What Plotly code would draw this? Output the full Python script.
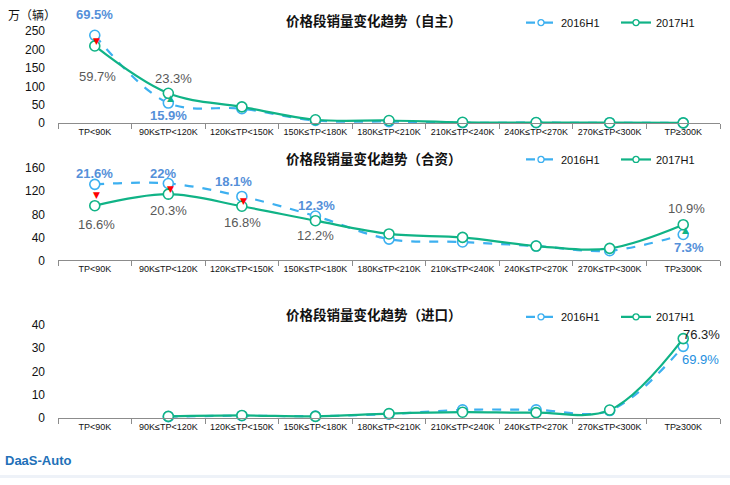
import plotly.graph_objects as go

categories = ["TP<90K", "90K≤TP<120K", "120K≤TP<150K", "150K≤TP<180K", "180K≤TP<210K",
              "210K≤TP<240K", "240K≤TP<270K", "270K≤TP<300K", "TP≥300K"]

# 自主
own_2016 = [239, 54.5, 39, 7, 4, 1, 1, 0.6, 0.3]
own_2017 = [210, 81, 44, 9, 7, 2, 1.5, 1, 0.5]
# 合资
jv_2016 = [132, 133.5, 111, 77, 37, 32, 25, 17, 45]
jv_2017 = [95, 115, 94, 69, 46, 40, 25, 21, 62]
# 进口
imp_2016 = [None, 0.7, 1.1, 0.9, 1.8, 3.6, 3.6, 3.3, 30.7]
imp_2017 = [None, 0.8, 1.2, 0.8, 2.0, 2.6, 2.4, 3.5, 34]

titles = ["价格段销量变化趋势（自主）", "价格段销量变化趋势（合资）", "价格段销量变化趋势（进口）"]
series_names = ["2016H1", "2017H1"]
y_ranges = [[0, 250], [0, 160], [0, 40]]
y_dticks = [50, 40, 10]

C16 = "#3DB0F0"
C17 = "#10B386"
BLUE_LBL = "#5590D9"
GRAY_LBL = "#595959"
FONT = "Liberation Sans, Arial, Noto Sans CJK SC"
CJK = "Noto Sans CJK SC"

W, H = 730, 485
def py(px):
    return 1 - px / H

panels_px = [(25, 119.5), (166, 261), (327, 423.5)]
x_left, x_right = 58, 720

fig = go.Figure()

data_pairs = [(own_2016, own_2017), (jv_2016, jv_2017), (imp_2016, imp_2017)]
for i, (s16, s17) in enumerate(data_pairs):
    k = "" if i == 0 else str(i + 1)
    for name, vals, col, dash in [(series_names[0], s16, C16, "dash"), (series_names[1], s17, C17, "solid")]:
        fig.add_trace(go.Scatter(
            x=categories, y=vals, name=name, mode="lines+markers", showlegend=False,
            line=dict(color=col, width=2.2, dash=dash, shape="spline", smoothing=1.0),
            marker=dict(symbol="circle", size=10, color="white", line=dict(color=col, width=1.6)),
            xaxis="x" + k, yaxis="y" + k, cliponaxis=False,
        ))
        fig.add_trace(go.Scatter(
            x=[None], y=[None], name=name, mode="lines+markers", showlegend=True,
            line=dict(color=col, width=2.2, dash=dash),
            marker=dict(symbol="circle", size=6, color="white", line=dict(color=col, width=1.3)),
            xaxis="x" + k, yaxis="y" + k, legend="legend" + k, hoverinfo="skip",
        ))

layout = dict(
    width=W, height=H, margin=dict(l=0, r=0, t=0, b=0),
    paper_bgcolor="white", plot_bgcolor="white",
    font=dict(family=FONT, size=11, color="#222"),
    showlegend=True,
)
for i in range(3):
    k = "" if i == 0 else str(i + 1)
    top, bot = panels_px[i]
    layout["xaxis" + k] = dict(
        domain=[x_left / W, x_right / W], anchor="y" + k, type="category",
        range=[-0.5, 8.5], showline=True, linecolor="#8c8c8c", linewidth=1,
        ticks="outside", tickson="boundaries", ticklen=5, tickcolor="#8c8c8c",
        tickfont=dict(size=9, color="#111", family=FONT), showgrid=False, zeroline=False,
        fixedrange=True,
    )
    layout["yaxis" + k] = dict(
        domain=[py(bot), py(top)], anchor="x" + k, range=y_ranges[i], dtick=y_dticks[i],
        showline=False, showgrid=False, zeroline=False, ticks="",
        ticklabelstandoff=12, tickfont=dict(size=12, color="#111", family=FONT),
    )
legend_y = [16, 157, 319]
for i in range(3):
    k = "" if i == 0 else str(i + 1)
    layout["legend" + k] = dict(
        x=521 / W, y=py(legend_y[i]), xanchor="left", yanchor="middle",
        orientation="h", font=dict(size=11, color="#111", family=FONT),
        bgcolor="rgba(0,0,0,0)", entrywidth=50, itemwidth=30,
        tracegroupgap=0,
    )
fig.update_layout(**layout)

title_y = [13, 155, 316]
for i in range(3):
    fig.add_annotation(text="<b>" + titles[i] + "</b>", x=374 / W, y=py(title_y[i]), xref="paper", yref="paper",
                       showarrow=False, font=dict(size=13.5, family=CJK, color="#111"), xanchor="center", yanchor="middle")

fig.add_annotation(text="万（辆）", x=6 / W, y=py(8), xref="paper", yref="paper", showarrow=False,
                   xanchor="left", yanchor="middle", font=dict(size=12, family=CJK, color="#111"))

# Share labels: (panel, category index, series, text, color, bold, xshift, yshift)
share_labels = [
    (0, 0, 0, "69.5%", BLUE_LBL, True, 0, 21),
    (0, 0, 1, "59.7%", GRAY_LBL, False, 3, -31),
    (0, 1, 1, "23.3%", GRAY_LBL, False, 5, 15),
    (0, 1, 0, "15.9%", BLUE_LBL, True, 0, -12),
    (1, 0, 0, "21.6%", BLUE_LBL, True, 0, 11),
    (1, 1, 0, "22%", BLUE_LBL, True, -5, 10),
    (1, 2, 0, "18.1%", BLUE_LBL, True, -8, 15),
    (1, 3, 0, "12.3%", BLUE_LBL, True, 1, 11),
    (1, 0, 1, "16.6%", GRAY_LBL, False, 2, -19),
    (1, 1, 1, "20.3%", GRAY_LBL, False, 0, -16),
    (1, 2, 1, "16.8%", GRAY_LBL, False, 1, -16),
    (1, 3, 1, "12.2%", GRAY_LBL, False, 0, -15),
    (1, 8, 1, "10.9%", GRAY_LBL, False, 3, 16),
    (1, 8, 0, "7.3%", BLUE_LBL, True, 6, -13),
    (2, 8, 1, "76.3%", "#222222", False, 18, 4),
    (2, 8, 0, "69.9%", "#1E8FE0", False, 17, -13),
]
for p, ci, si, txt, col, bold, xs, ys in share_labels:
    k = "" if p == 0 else str(p + 1)
    val = data_pairs[p][si][ci]
    fig.add_annotation(text=("<b>%s</b>" % txt) if bold else txt, x=categories[ci], y=val,
                       xref="x" + k, yref="y" + k, showarrow=False, xshift=xs, yshift=ys,
                       font=dict(size=13, color=col, family=FONT))

change_marks = [(0, 0, False), (0, 1, True), (1, 0, False), (1, 1, False), (1, 2, False), (1, 8, True)]
for p, ci, up in change_marks:
    k = "" if p == 0 else str(p + 1)
    mid = (data_pairs[p][0][ci] + data_pairs[p][1][ci]) / 2
    fig.add_annotation(text="▲" if up else "▼", x=categories[ci], y=mid, xref="x" + k, yref="y" + k,
                       showarrow=False, xshift=2, font=dict(size=9, color=C17 if up else "#FF0000", family="DejaVu Sans"))

fig.add_annotation(text="<b>DaaS-Auto</b>", x=3 / W, y=py(467), xref="paper", yref="paper", showarrow=False,
                   xanchor="left", yanchor="middle", font=dict(size=13, color="#2270B8", family="Liberation Sans"))
fig.add_shape(type="rect", x0=0, x1=1, y0=0, y1=3 / H, xref="paper", yref="paper",
              fillcolor="#EEF2F8", line=dict(width=0))

fig.write_html("out.html", config={"displayModeBar": False},
               post_script="document.body.style.margin='0';document.body.style.padding='0';")
